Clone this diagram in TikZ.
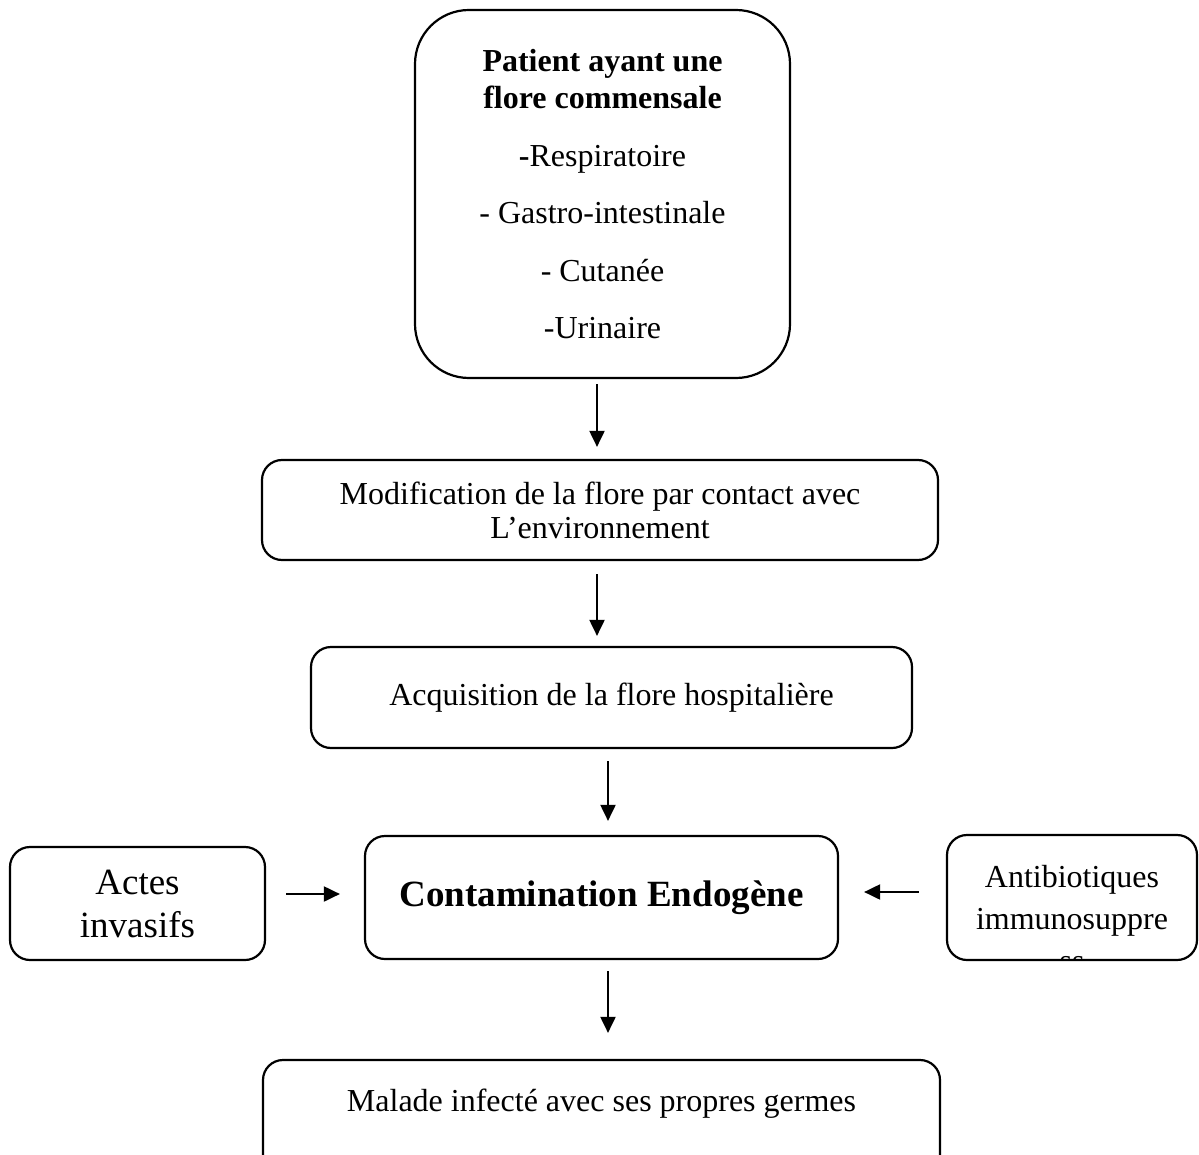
\documentclass[tikz,border=0pt]{standalone}
\usepackage{fontspec}
\setmainfont{Liberation Serif}
\usetikzlibrary{arrows.meta}

\begin{document}
\begin{tikzpicture}[x=0.5pt, y=-0.5pt,
  box/.style={draw, line width=1.1pt, rounded corners=10pt, align=center, inner sep=0pt,
    font=\fontsize{16}{17}\selectfont},
  arr/.style={-{Triangle[length=8pt,width=7.5pt]}, line width=1pt}]

  % Cadre de la page
  \useasboundingbox (0,0) rectangle (1199,1155);
  \clip (0,0) rectangle (1199,1155);

  % Flore du patient
  \node[box, rounded corners=27pt, minimum width=187.5pt, minimum height=184pt,
        font=\fontsize{16}{18.5}\selectfont] (patient) at (602.5,194)
    {\textbf{Patient ayant une}\\\textbf{flore commensale}\\[10.5pt]
     \textbf{-}Respiratoire\\[10.25pt]- Gastro-intestinale\\[10.25pt]- Cutanée\\[10.25pt]-Urinaire};

  % Etapes successives
  \node[box, minimum width=338pt, minimum height=50pt] (modif) at (600,510)
    {Modification de la flore par contact avec\\L’environnement};
  \node[box, minimum width=300.5pt, minimum height=50.5pt] (acq) at (611.5,697.5)
    {Acquisition de la flore hospitalière};
  \node[box, minimum width=236.5pt, minimum height=61.5pt,
        font=\fontsize{18.5}{20}\selectfont\bfseries] (cont) at (601.5,897.5)
    {Contamination Endogène};

  % Facteurs lateraux
  \node[box, minimum width=127.5pt, minimum height=56.5pt,
        font=\fontsize{18.5}{21.5}\selectfont] (actes) at (137.5,903.5)
    {Actes\\invasifs};
  \node[box, minimum width=125pt, minimum height=62.5pt,
        path picture={\node[draw=none, align=center, font=\fontsize{16}{21}\selectfont]
          at ([yshift=-10.5pt]path picture bounding box.center)
          {Antibiotiques\\immunosuppre\\ss};}] (anti) at (1072,897.5) {};

  % Resultat
  \node[box, minimum width=338.5pt, minimum height=57.5pt] (malade) at (601.5,1117.5)
    {Malade infecté avec ses propres germes\\\mbox{}};

  % Colonnes et lignes des fleches
  \coordinate (c1) at (597,0);
  \coordinate (c2) at (608,0);
  \coordinate (r1) at (0,894);
  \coordinate (r2) at (0,892);

  \draw[arr, shorten <=2.5pt, shorten >=6pt] (patient.south -| c1) -- (modif.north -| c1);
  \draw[arr, shorten <=6.5pt, shorten >=5pt] (modif.south -| c1) -- (acq.north -| c1);
  \draw[arr, shorten <=6pt, shorten >=7pt] (acq.south -| c2) -- (cont.north -| c2);
  \draw[arr, shorten <=5.5pt, shorten >=13pt] (cont.south -| c2) -- (malade.north -| c2);
  \draw[arr, shorten <=10pt, shorten >=12pt] (actes.east |- r1) -- (cont.west |- r1);
  \draw[arr, shorten <=13.5pt, shorten >=12.5pt] (anti.west |- r2) -- (cont.east |- r2);

\end{tikzpicture}
\end{document}
